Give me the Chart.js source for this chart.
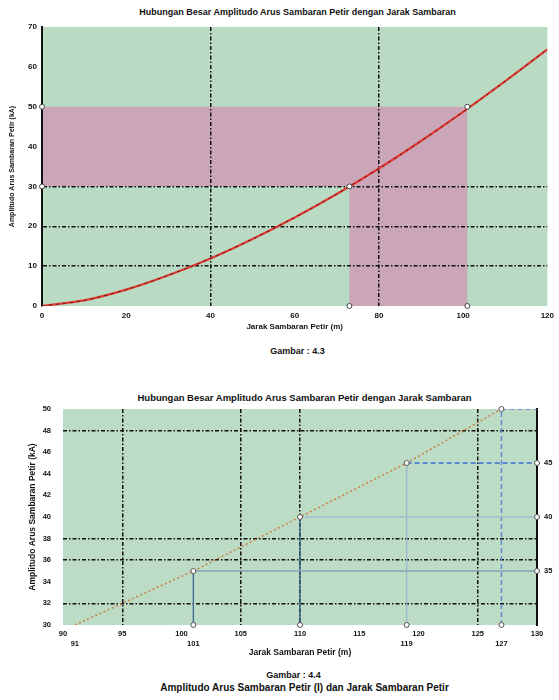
<!DOCTYPE html>
<html>
<head>
<meta charset="utf-8">
<script src="https://cdn.jsdelivr.net/npm/chart.js@4.4.0/dist/chart.umd.min.js"></script>
<style>
  body { margin: 0; background: #fff; width: 559px; height: 700px; position: relative; overflow: hidden; font-family: "Liberation Sans", Arial, sans-serif; }
  .txt { position: absolute; width: 559px; text-align: center; font-weight: bold; color: #111; white-space: nowrap; line-height: 1; }
  canvas { position: absolute; left: 0; }
</style>
</head>
<body>
<div class="txt" style="top:8px;left:18px;font-size:9px;">Hubungan Besar Amplitudo Arus Sambaran Petir dengan Jarak Sambaran</div>
<canvas id="chart1" width="559" height="334" style="top:0;"></canvas>
<div class="txt" style="top:347px;left:18px;font-size:9px;">Gambar : 4.3</div>

<div class="txt" style="top:393px;left:25px;font-size:9.5px;">Hubungan Besar Amplitudo Arus Sambaran Petir dengan Jarak Sambaran</div>
<canvas id="chart2" width="559" height="275" style="top:385px;"></canvas>
<div class="txt" style="top:671px;left:14px;font-size:9px;">Gambar : 4.4</div>
<div class="txt" style="top:683px;left:25px;font-size:10px;">Amplitudo Arus Sambaran Petir (I) dan Jarak Sambaran Petir</div>

<script>
// chart 1: jarak sambaran (m) vs amplitudo arus (kA)
const curveDist = [0, 10, 20, 30, 40, 50, 60, 70, 80, 90, 100, 110, 120];
const curveAmp = [0, 1.4, 4.1, 7.7, 11.9, 16.8, 22.2, 28.1, 34.5, 41.4, 48.7, 56.4, 64.4];
const pointDist1 = [73, 101];
const pointAmp1 = [30, 50];
const xTicks1 = [0, 20, 40, 60, 80, 100, 120];
const yTicks1 = [0, 10, 20, 30, 40, 50, 60, 70];
const xGrid1 = [40, 80];
const yGrid1 = [10, 20, 30];

// chart 2: zoom pada rentang 90-130 m
const lineDist2 = [91, 101, 110, 119, 127];
const lineAmp2 = [30, 35, 40, 45, 50];
const pointDist2 = [101, 110, 119, 127];
const pointAmp2 = [35, 40, 45, 50];
const xTicks2 = [90, 95, 100, 105, 110, 115, 120, 125, 130];
const xExtra2 = [91, 101, 119, 127];
const yTicks2 = [30, 32, 34, 36, 38, 40, 42, 44, 46, 48, 50];
const yRightTicks2 = [35, 40, 45];
const xGrid2 = [95, 105, 110, 125];
const yGrid2 = [32, 36, 38, 48];

// garis bantu: bagian vertikal lalu horizontal
const vertColors = ['#3f6d96', '#35628c', '#9cbacb', '#5a88d4'];
const vertDash = [[], [], [], [5, 3]];
const horizColors = ['#86a3b3', '#a3bfcd', '#3a6fd0', '#5a88d4'];
const horizDash = [[], [], [5, 3], [5, 3]];

const INK = '#111';
const GRID_DASH = [4, 2, 1.5, 2];
const tickFont = { family: '"Liberation Sans", Arial, sans-serif', size: 8, weight: 'bold' };

function fixedTicks(list) {
  return function(scale) {
    scale.ticks = list.map(function(v) { return { value: v }; });
  };
}

function gridColor(list) {
  return function(ctx) {
    return ctx.tick && list.includes(ctx.tick.value) ? INK : 'rgba(0,0,0,0)';
  };
}

const zonePlugin = {
  id: 'zones',
  beforeDraw(chart, args, opts) {
    const { ctx, chartArea: a, scales } = chart;
    const x = scales.x, y = scales.y;
    ctx.save();
    ctx.fillStyle = opts.green;
    ctx.fillRect(a.left, a.top, a.width, a.height);
    ctx.fillStyle = opts.pink;
    (opts.rects || []).forEach(function(r) {
      const x0 = x.getPixelForValue(r[0]), x1 = x.getPixelForValue(r[1]);
      const y0 = y.getPixelForValue(r[2]), y1 = y.getPixelForValue(r[3]);
      ctx.fillRect(Math.min(x0, x1), Math.min(y0, y1), Math.abs(x1 - x0), Math.abs(y1 - y0));
    });
    ctx.restore();
  }
};

function pairs(xs, ys) {
  return xs.map(function(v, i) { return { x: v, y: ys[i] }; });
}

// ---------- chart 1 ----------
const marks1 = pairs(pointDist1, pointAmp1)
  .concat(pointDist1.map(function(v) { return { x: v, y: 0 }; }))
  .concat(pointAmp1.map(function(v) { return { x: 0, y: v }; }));

new Chart(document.getElementById('chart1'), {
  type: 'line',
  data: {
    datasets: [
      { type: 'scatter', data: marks1, pointRadius: 2.5, pointBackgroundColor: '#fff', pointBorderColor: '#444', pointBorderWidth: 1, clip: false },
      { data: pairs(curveDist, curveAmp), borderColor: '#6e1a10', borderWidth: 1, borderDash: [3, 4], pointRadius: 0, tension: 0.3 },
      { data: pairs(curveDist, curveAmp), borderColor: '#e03a32', borderWidth: 2.2, pointRadius: 0, tension: 0.3 }
    ]
  },
  plugins: [zonePlugin],
  options: {
    responsive: false,
    animation: false,
    layout: { padding: { left: 0, right: 6, top: 27, bottom: 0 } },
    plugins: {
      legend: { display: false },
      tooltip: { enabled: false },
      zones: {
        green: '#b9dbc4',
        pink: '#cba6b9',
        rects: [
          [0, pointDist1[1], pointAmp1[0], pointAmp1[1]],
          [pointDist1[0], pointDist1[1], 0, pointAmp1[0]]
        ]
      }
    },
    scales: {
      x: {
        type: 'linear', min: 0, max: 120,
        afterBuildTicks: fixedTicks(xTicks1),
        afterFit: function(s) { s.height = 28; },
        grid: { color: gridColor(xGrid1), lineWidth: 1.5, drawTicks: false },
        border: { display: false, dash: GRID_DASH },
        ticks: { padding: 5, font: tickFont, color: INK, autoSkip: false, maxRotation: 0 },
        title: { display: true, text: 'Jarak Sambaran Petir (m)', color: INK, font: { size: 8, weight: 'bold' }, padding: { top: 0, bottom: 2 } }
      },
      y: {
        type: 'linear', min: 0, max: 70,
        afterBuildTicks: fixedTicks(yTicks1),
        afterFit: function(s) { s.width = 42; },
        grid: { color: gridColor(yGrid1), lineWidth: 1.5, drawTicks: false },
        border: { display: true, color: INK, width: 2, dash: GRID_DASH },
        ticks: { padding: 5, font: tickFont, color: INK },
        title: { display: true, text: 'Amplitudo Arus Sambaran Petir (kA)', color: INK, font: { size: 7, weight: 'bold' }, padding: { top: 8, bottom: 0 } }
      }
    }
  }
});

// ---------- chart 2 ----------
const allX2 = xTicks2.concat(xExtra2).sort(function(a, b) { return a - b; });
const marks2 = pairs(pointDist2, pointAmp2)
  .concat(pointDist2.map(function(v) { return { x: v, y: 30 }; }))
  .concat(pointAmp2.slice(0, 3).map(function(v) { return { x: 130, y: v }; }));

const guides2 = pointDist2.map(function(d, i) {
  return {
    data: [{ x: d, y: 30 }, { x: d, y: pointAmp2[i] }, { x: 130, y: pointAmp2[i] }],
    borderColor: vertColors[i],
    borderWidth: 1.4,
    segment: {
      borderColor: function(ctx) { return ctx.p0DataIndex === 0 ? vertColors[i] : horizColors[i]; },
      borderDash: function(ctx) { return ctx.p0DataIndex === 0 ? vertDash[i] : horizDash[i]; }
    },
    pointRadius: 0, tension: 0
  };
});

new Chart(document.getElementById('chart2'), {
  type: 'line',
  data: {
    datasets: [
      { type: 'scatter', data: marks2, pointRadius: 2.5, pointBackgroundColor: '#fff', pointBorderColor: '#555', pointBorderWidth: 1, clip: false },
      { data: pairs(lineDist2, lineAmp2), borderColor: '#c8844c', borderWidth: 1.6, borderDash: [2, 2.5], pointRadius: 0, tension: 0 }
    ].concat(guides2)
  },
  plugins: [zonePlugin],
  options: {
    responsive: false,
    animation: false,
    layout: { padding: { left: 0, right: 0, top: 24, bottom: 0 } },
    plugins: {
      legend: { display: false },
      tooltip: { enabled: false },
      zones: { green: '#bcdcc5', pink: '#cba6b9', rects: [] }
    },
    scales: {
      x: {
        type: 'linear', min: 90, max: 130,
        afterBuildTicks: fixedTicks(allX2),
        afterFit: function(s) { s.height = 35; },
        grid: { color: gridColor(xGrid2), lineWidth: 1.5, drawTicks: false },
        border: { display: false, dash: GRID_DASH },
        ticks: {
          padding: 4, color: INK, autoSkip: false, maxRotation: 0,
          font: { family: tickFont.family, size: 7.5, weight: 'bold', lineHeight: 1.3 },
          callback: function(v) { return xTicks2.includes(v) ? String(v) : ['', String(v)]; }
        },
        title: { display: true, text: 'Jarak Sambaran Petir (m)', color: INK, font: { size: 8.5, weight: 'bold' }, padding: { top: 0, bottom: 2 } }
      },
      y: {
        type: 'linear', min: 30, max: 50,
        afterBuildTicks: fixedTicks(yTicks2),
        afterFit: function(s) { s.width = 63; },
        grid: { color: gridColor(yGrid2), lineWidth: 1.5, drawTicks: false },
        border: { display: false, dash: GRID_DASH },
        ticks: { padding: 12, font: { family: tickFont.family, size: 7.5, weight: 'bold' }, color: INK },
        title: { display: true, text: 'Amplitudo Arus Sambaran Petir (kA)', color: INK, font: { size: 8.5, weight: 'bold' }, padding: { top: 28, bottom: 0 } }
      },
      yR: {
        type: 'linear', position: 'right', min: 30, max: 50,
        afterBuildTicks: fixedTicks(yRightTicks2),
        afterFit: function(s) { s.width = 22; },
        grid: { drawOnChartArea: false, color: INK, tickLength: 3 },
        border: { display: true, color: INK, width: 2 },
        ticks: { padding: 4, font: { family: tickFont.family, size: 7.5, weight: 'bold' }, color: INK }
      }
    }
  }
});
</script>
</body>
</html>
